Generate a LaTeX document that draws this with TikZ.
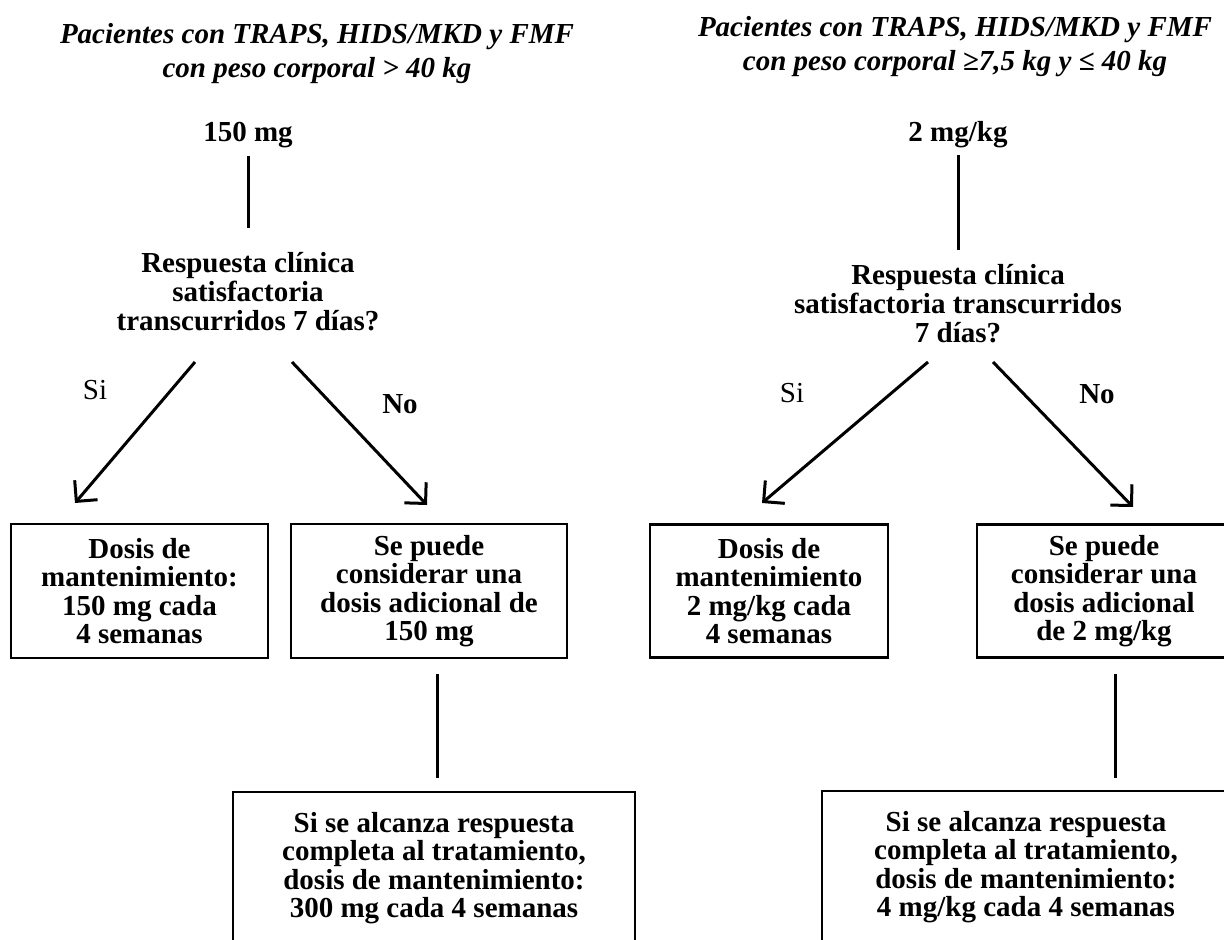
\documentclass[tikz,border=0pt]{standalone}
\usepackage{fontspec}
\setmainfont{Liberation Serif}
\usetikzlibrary{arrows.meta}
\begin{document}
\begin{tikzpicture}[x=0.5pt,y=-0.5pt,
  ttl/.style={inner sep=0pt, align=center, font=\fontsize{14.5}{17}\selectfont\bfseries\itshape},
  txt/.style={inner sep=0pt, align=center, font=\fontsize{14.5}{14.5}\selectfont\bfseries},
  lbl/.style={inner sep=0pt, font=\fontsize{14.5}{14.5}\selectfont},
  lblb/.style={inner sep=0pt, font=\fontsize{14.5}{14.5}\selectfont\bfseries},
  boxtxt/.style={draw, line width=1.2pt, inner sep=0pt, align=center, font=\fontsize{14.5}{14.2}\selectfont\bfseries},
  conn/.style={line width=1.5pt},
  arr/.style={line width=1.5pt, -{Straight Barb[length=7.5pt,width=15pt]}},
]
\useasboundingbox (0,0) rectangle (1224,940);
\clip (0,0) rectangle (1224,940);

% titles
\node[ttl] (t1) at (317,54) {Pacientes con TRAPS, HIDS/MKD y FMF\\con peso corporal > 40 kg};
\node[ttl] (t2) at (955,47) {Pacientes con TRAPS, HIDS/MKD y FMF\\con peso corporal ≥7,5 kg y ≤ 40 kg};

% doses
\node[txt] (d1) at (248,135) {150 mg};
\node[txt] (d2) at (958,135) {2 mg/kg};

% questions
\node[txt] (q1) at (248,292) {Respuesta clínica\\satisfactoria\\transcurridos 7 días?};
\node[txt] (q2) at (958,304) {Respuesta clínica\\satisfactoria transcurridos\\7 días?};

% labels
\node[lbl] (si1) at (95,390) {Si};
\node[lblb] (no1) at (400,404) {No};
\node[lbl] (si2) at (792,393) {Si};
\node[lblb] (no2) at (1097,394) {No};

% boxes
\node[boxtxt, minimum width=128.5pt, minimum height=67pt] (b1) at (139.5,591) {Dosis de\\mantenimiento:\\150 mg cada\\4 semanas};
\node[boxtxt, minimum width=138pt, minimum height=67pt] (b2) at (429,591) {Se puede\\considerar una\\dosis adicional de\\150 mg};
\node[boxtxt, minimum width=119pt, minimum height=66.5pt] (b3) at (769,591) {Dosis de\\mantenimiento\\2 mg/kg cada\\4 semanas};
\node[boxtxt, minimum width=127pt, minimum height=66.5pt] (b4) at (1104,591) {Se puede\\considerar una\\dosis adicional\\de 2 mg/kg};
\node[boxtxt, minimum width=201pt, minimum height=76pt] (b5) at (434,868) {Si se alcanza respuesta\\completa al tratamiento,\\dosis de mantenimiento:\\300 mg cada 4 semanas};
\node[boxtxt, minimum width=204pt, minimum height=76pt] (b6) at (1026,867) {Si se alcanza respuesta\\completa al tratamiento,\\dosis de mantenimiento:\\4 mg/kg cada 4 semanas};

% connectors
\draw[conn] ([shift={(0,21)}]d1.center) -- ([shift={(0,-64)}]q1.center);
\draw[conn] ([shift={(0,20)}]d2.center) -- ([shift={(0,-54)}]q2.center);

\draw[arr] ([shift={(-53,70)}]q1.center) -- ([shift={(-64.5,-88)}]b1.center);
\draw[arr] ([shift={(44,70)}]q1.center) -- ([shift={(-2,-86)}]b2.center);
\draw[arr] ([shift={(-30,58)}]q2.center) -- ([shift={(-7,-88)}]b3.center);
\draw[arr] ([shift={(35,58)}]q2.center) -- ([shift={(29,-84)}]b4.center);

\draw[conn] ([shift={(8,83)}]b2.center) -- ([shift={(3,-90)}]b5.center);
\draw[conn] ([shift={(11,83)}]b4.center) -- ([shift={(89,-89)}]b6.center);
\end{tikzpicture}
\end{document}
